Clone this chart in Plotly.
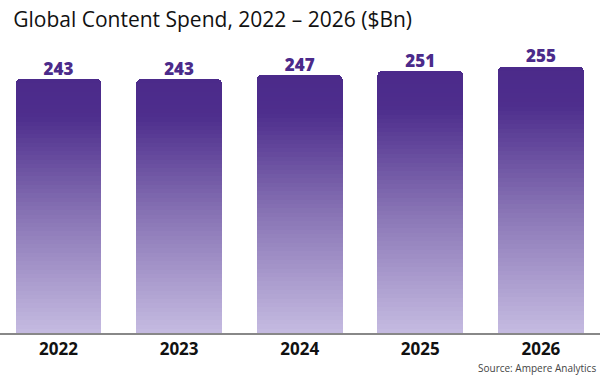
import plotly.graph_objects as go

years = ["2022", "2023", "2024", "2025", "2026"]
spend = [243, 243, 247, 251, 255]
value_labels = ["243", "243", "247", "251", "255"]

title_text = "Global Content Spend, 2022 – 2026 ($Bn)"
source_text = "Source: Ampere Analytics"

# gradient stops (fraction from bottom of bar -> colour)
stops = [(0.0, (197, 187, 225)), (0.45, (138, 118, 182)), (0.85, (78, 46, 141)), (1.0, (75, 42, 138))]

def grad(t):
    for (t0, c0), (t1, c1) in zip(stops[:-1], stops[1:]):
        if t <= t1:
            f = (t - t0) / (t1 - t0) if t1 > t0 else 0
            return "rgb(%d,%d,%d)" % tuple(round(a + (b - a) * f) for a, b in zip(c0, c1))
    return "rgb(%d,%d,%d)" % stops[-1][1]

N = 60
fig = go.Figure()
for k in range(N):
    fig.add_trace(go.Bar(
        x=years, y=[v / N for v in spend],
        marker=dict(color=grad((k + 0.5) / N), line=dict(width=0), cornerradius=5),
        hoverinfo="skip", showlegend=False,
    ))

fig.add_trace(go.Scatter(
    x=years, y=spend, mode="text", text=value_labels, textposition="top center",
    textfont=dict(family="Open Sans", size=17, color="#4b2a8a", weight=800),
    hoverinfo="skip", showlegend=False, cliponaxis=False,
))

fig.update_layout(
    width=600, height=375,
    margin=dict(l=0, r=0, t=51, b=42),
    paper_bgcolor="white", plot_bgcolor="white",
    barmode="stack", bargap=0.287,
    title=dict(text=title_text, x=0.022, xanchor="left", y=0.948, yanchor="middle",
               font=dict(family="Open Sans", size=21, color="#111")),
    xaxis=dict(showline=True, linecolor="#888", linewidth=2, ticks="", showgrid=False,
               tickfont=dict(family="Open Sans", size=17, color="#111", weight="bold"),
               range=[-0.485, 4.49]),
    yaxis=dict(visible=False, range=[0, 270], showgrid=False),
    annotations=[dict(text=source_text, x=0.997, xref="paper", xanchor="right",
                      y=-0.125, yref="paper", yanchor="middle", showarrow=False,
                      font=dict(family="Open Sans", size=10, color="#444"))],
)

fig.write_html("out.html", config={"displayModeBar": False},
               post_script="document.body.style.margin='0';")
